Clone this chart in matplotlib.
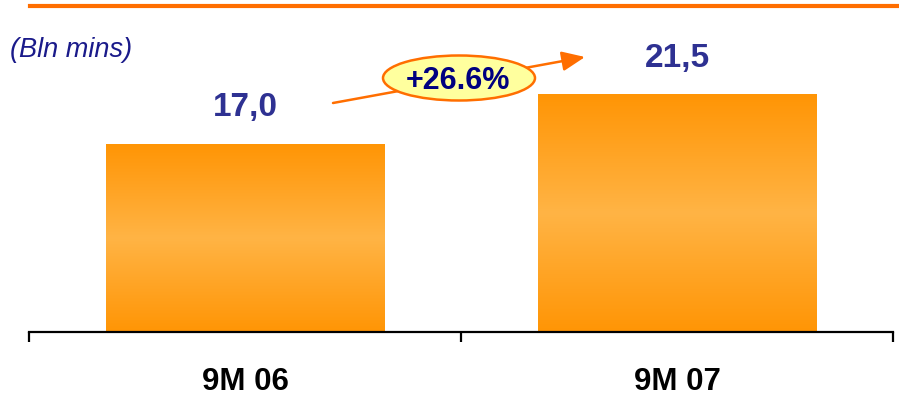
"""Bar chart: minutes of traffic, 9M 06 vs 9M 07."""

import matplotlib
matplotlib.use("Agg")
import matplotlib.pyplot as plt
import numpy as np
from matplotlib.colors import LinearSegmentedColormap
from matplotlib.lines import Line2D
from matplotlib.patches import Ellipse

# data
periods = ["9M 06", "9M 07"]
minutes_bln = [17.0, 21.5]
growth_label = "+26.6%"
unit_label = "(Bln mins)"

ORANGE_DARK = "#FF9505"
ORANGE_LIGHT = "#FFB445"
RULE_ORANGE = "#FF6E00"
VALUE_BLUE = "#2E3192"
NAVY = "#000080"

W, H = 899, 401
PX_PER_UNIT = 11.05
plt.rcParams["font.family"] = ["Liberation Sans", "DejaVu Sans"]

fig = plt.figure(figsize=(W / 100, H / 100), dpi=100)
ax = fig.add_axes([29 / W, 69 / H, (893 - 29) / W, 332 / H])

# bars with a vertical gradient (dark - light - dark)
grad_cmap = LinearSegmentedColormap.from_list(
    "bar", [ORANGE_DARK, ORANGE_LIGHT, ORANGE_DARK])
grad = np.linspace(0, 1, 256).reshape(-1, 1)
x = np.arange(len(periods))
bars = ax.bar(x, minutes_bln, width=0.645, color="none", edgecolor="none")
for bar in bars:
    x0, y0 = bar.get_x(), bar.get_y()
    img = ax.imshow(grad, cmap=grad_cmap, aspect="auto", origin="lower",
                    extent=(x0, x0 + bar.get_width(), y0, y0 + bar.get_height()),
                    zorder=2)
    img.set_clip_path(bar)
ax.set_xlim(-0.5, 1.5)
ax.set_ylim(0, 332 / PX_PER_UNIT)

for xi, v in zip(x, minutes_bln):
    ax.annotate(f"{v:.1f}".replace(".", ","), (xi, v), xytext=(0, 20),
                textcoords="offset points", ha="center", va="baseline",
                fontsize=24, fontweight="bold", color=VALUE_BLUE)

# axis styling
for side in ["top", "right", "left"]:
    ax.spines[side].set_visible(False)
ax.spines["bottom"].set_linewidth(1.6)
ax.spines["bottom"].set_color("black")
ax.set_yticks([])
ax.set_xticks([-0.5, 0.5, 1.5])
ax.set_xticklabels([])
ax.tick_params(axis="x", which="major", length=7.5, width=1.6, direction="out")
ax.set_xticks(x, minor=True)
ax.set_xticklabels(periods, minor=True, fontsize=22.5, fontweight="bold")
ax.tick_params(axis="x", which="minor", length=0, pad=25)

# top rule
fig.add_artist(Line2D([30 / W, 1], [1 - 6 / H, 1 - 6 / H],
                      transform=fig.transFigure, color=RULE_ORANGE, lw=3))

fig.text(10 / W, 1 - 50 / H, unit_label, fontsize=19.5, style="italic",
         color="#1A1A8A", ha="left", va="center")

# growth arrow + callout
ax.annotate("", xy=(585 / W, 1 - 57 / H), xytext=(333 / W, 1 - 103 / H),
            xycoords="figure fraction", textcoords="figure fraction",
            arrowprops=dict(arrowstyle="-|>,head_length=1.4,head_width=0.6",
                            color=RULE_ORANGE, lw=1.8, shrinkA=0, shrinkB=0))
fig.add_artist(Ellipse((459 / W, 1 - 78 / H), 152 / W, 45 / H,
                       transform=fig.transFigure, facecolor="#FFFF9E",
                       edgecolor=RULE_ORANGE, lw=1.8, zorder=5))
fig.text(458 / W, 1 - 81 / H, growth_label, fontsize=22, fontweight="bold",
         color=NAVY, ha="center", va="center", zorder=6)

fig.savefig("out.png", dpi=100, facecolor="white")
